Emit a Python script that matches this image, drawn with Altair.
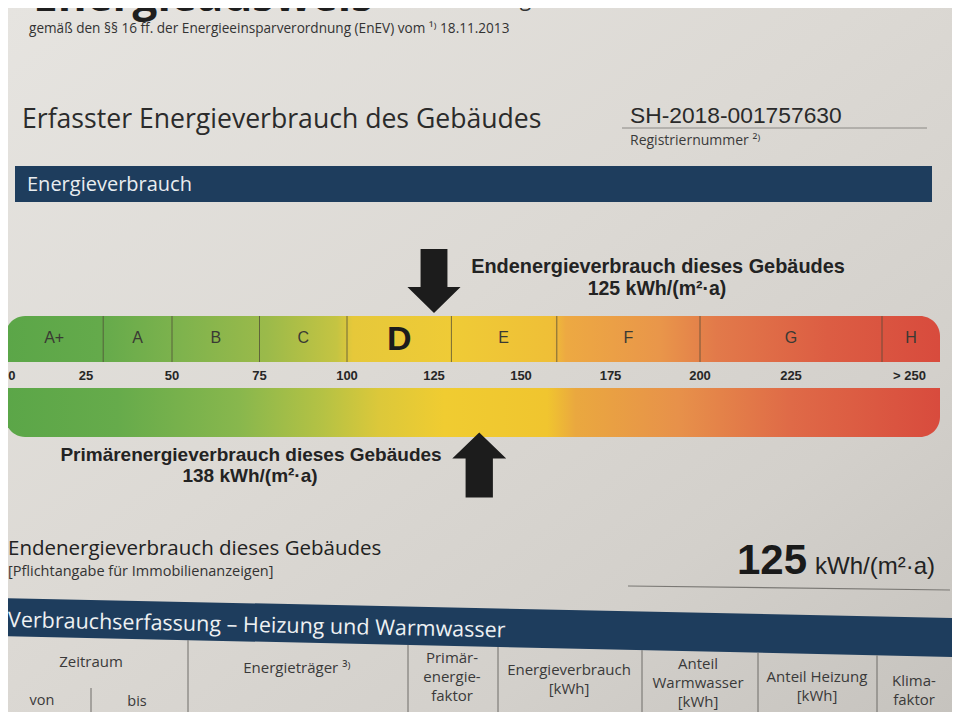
import altair as alt
import pandas as pd

# ------------------------------------------------------------------ data
class_labels = ["A+", "A", "B", "C", "D", "E", "F", "G", "H"]
class_bounds = [0, 30, 50, 75, 100, 130, 160, 200, 250]
tick_values = [0, 25, 50, 75, 100, 125, 150, 175, 200, 225, 250]
tick_labels = ["0", "25", "50", "75", "100", "125", "150", "175", "200", "225", "> 250"]
end_energy = 125
primary_energy = 138
energy_class = "D"
unit = "kWh/(m²·a)"
register_no = "SH-2018-001757630"
table_cols = ["Zeitraum", "Energieträger ³⁾", "Primär-\nenergie-\nfaktor",
              "Energieverbrauch\n[kWh]", "Anteil\nWarmwasser\n[kWh]",
              "Anteil Heizung\n[kWh]", "Klima-\nfaktor"]
period_cols = ["von", "bis"]

# ------------------------------------------------------------------ layout
W, H = 944, 704
OX, OY = 8, 8          # page margin (reference pixel -> chart pixel)


def px(x):
    return x - OX


def py(y):
    return y - OY


BAR_START, BAR_END = 1.5, 268        # visible extent of the scale bars (kWh)
# the printed scale is slightly warped in the photo: piecewise-linear scale
KX = alt.Scale(domain=[0, 50, 100, 150, 200, 250, 268],
               range=[px(0), px(172), px(347), px(521), px(700), px(882), px(940)],
               nice=False, zero=False)
PX = alt.Scale(domain=[OX, OX + W], nice=False, zero=False)
PY = alt.Scale(domain=[OY, OY + H], nice=False, zero=False, reverse=True)

DOC = "Open Sans"
ARIAL = "Liberation Sans"
INK = "#2b2b2b"
BLUE = "#1e3d5d"

one = pd.DataFrame({"a": [0]})


def grad(stops, x1=0, y1=0, x2=1, y2=0):
    return alt.LinearGradient(
        gradient="linear", x1=x1, y1=y1, x2=x2, y2=y2,
        stops=[alt.GradientStop(offset=o, color=c) for o, c in stops])


def txt(s, x, y, size, font=DOC, weight="normal", color=INK, align="left",
        angle=0, lh=None, baseline="middle"):
    kw = dict(font=font, fontSize=size, fontWeight=weight, color=color,
              align=align, baseline=baseline, lineBreak="\n")
    if angle:
        kw["angle"] = angle
    if lh:
        kw["lineHeight"] = lh
    return alt.Chart(pd.DataFrame({"t": [s]})).mark_text(**kw).encode(
        x=alt.value(px(x)), y=alt.value(py(y)), text="t:N")


def rect(x0, x1, y0, y1, color):
    return alt.Chart(one).mark_rect(color=color).encode(
        x=alt.value(px(x0)), x2=alt.value(px(x1)),
        y=alt.value(py(y0)), y2=alt.value(py(y1)))


layers = []

# background paper
layers.append(alt.Chart(one).mark_rect(
    color=grad([(0, "#e6e4e0"), (0.45, "#dcd9d4"), (0.75, "#d3d0cb"),
                (1, "#c6c3be")], 0, 0, 1, 1)).encode(
    x=alt.value(0), x2=alt.value(W), y=alt.value(0), y2=alt.value(H)))

# header texts (the big title is cut by the top edge of the photo)
layers.append(txt("Energieausweis", 33, 11, 44, weight="bold", color="#1f1f1f",
                  baseline="alphabetic"))
layers.append(txt("für Wohngebäude", 428, 6, 21, color="#333333",
                  baseline="alphabetic"))
layers.append(txt("gemäß den §§ 16 ff. der Energieeinsparverordnung (EnEV) vom ¹⁾ 18.11.2013",
                  29, 29, 13.6, color="#333333"))
layers.append(txt("Erfasster Energieverbrauch des Gebäudes", 22, 120, 26.6))
layers.append(txt(register_no, 630, 116, 22.8, font=ARIAL, color="#2a2a2a"))
layers.append(alt.Chart(one).mark_rule(color="#8a8884", strokeWidth=1).encode(
    x=alt.value(px(622)), x2=alt.value(px(927)), y=alt.value(py(128))))
layers.append(txt("Registriernummer ²⁾", 630, 141, 14, color="#3a3a3a"))

# blue band "Energieverbrauch"
layers.append(rect(15, 932, 166, 202, BLUE))
layers.append(txt("Energieverbrauch", 27, 185, 20, color="#e9edf0"))

# ------------------------------------------------------------------ scale bars
seg = pd.DataFrame({
    "label": class_labels,
    "lo": class_bounds,
    "hi": class_bounds[1:] + [BAR_END],
})
seg["mid"] = (seg["lo"].clip(lower=BAR_START) + seg["hi"]) / 2

top_stops = [(0.0, "#5ba648"), (0.10, "#64aa4b"), (0.19, "#7fb34d"),
             (0.28, "#9bba4a"), (0.355, "#c5c442"), (0.372, "#e6c83a"),
             (0.48, "#efcb36"), (0.585, "#efbf37"), (0.60, "#eda942"),
             (0.70, "#e9964a"), (0.76, "#e27a4a"), (0.88, "#dc5d43"),
             (1.0, "#d84b3d")]
bot_stops = [(0.0, "#5ba648"), (0.12, "#66ab4b"), (0.25, "#88b74d"),
             (0.34, "#b5c244"), (0.40, "#dcc83a"), (0.47, "#f0cc31"),
             (0.58, "#f0c52f"), (0.61, "#eaa83f"), (0.72, "#e7914a"),
             (0.84, "#df6a47"), (1.0, "#d84b3d")]

bar_df = pd.DataFrame({"lo": [BAR_START], "hi": [BAR_END]})
layers.append(alt.Chart(bar_df).mark_bar(
    color=grad(top_stops), cornerRadiusTopLeft=20, cornerRadiusTopRight=20).encode(
    x=alt.X("lo:Q", scale=KX, axis=None), x2="hi:Q",
    y=alt.value(py(316)), y2=alt.value(py(362))))
layers.append(alt.Chart(bar_df).mark_bar(
    color=grad(bot_stops), cornerRadiusBottomLeft=20, cornerRadiusBottomRight=20).encode(
    x=alt.X("lo:Q", scale=KX, axis=None), x2="hi:Q",
    y=alt.value(py(388)), y2=alt.value(py(437))))

# class dividers
layers.append(alt.Chart(seg.iloc[1:]).mark_rule(
    color="#4d4a36", strokeWidth=1, opacity=0.75).encode(
    x=alt.X("lo:Q", scale=KX, axis=None),
    y=alt.value(py(316)), y2=alt.value(py(362))))

# class letters
layers.append(alt.Chart(seg).transform_filter(
    alt.datum.label != energy_class).mark_text(
    font=ARIAL, fontSize=16, color="#3a3a34", baseline="middle").encode(
    x=alt.X("mid:Q", scale=KX, axis=None), y=alt.value(py(338)), text="label:N"))
layers.append(alt.Chart(seg).transform_filter(
    alt.datum.label == energy_class).mark_text(
    font=ARIAL, fontSize=34, fontWeight="bold", color="#1c1c1c", baseline="middle").encode(
    x=alt.X("mid:Q", scale=KX, axis=None), y=alt.value(py(340)), text="label:N"))

# tick labels
ticks = pd.DataFrame({"v": tick_values, "label": tick_labels})
tick_style = dict(font=ARIAL, fontSize=13, fontWeight="bold", color="#262626",
                  baseline="middle")
layers.append(alt.Chart(ticks.iloc[1:-1]).mark_text(**tick_style).encode(
    x=alt.X("v:Q", scale=KX, axis=None), y=alt.value(py(376)), text="label:N"))
first = ticks.iloc[:1].assign(pos=BAR_START)
last = ticks.iloc[-1:].assign(pos=BAR_END)
layers.append(alt.Chart(first).mark_text(align="left", dx=3, **tick_style).encode(
    x=alt.X("pos:Q", scale=KX, axis=None), y=alt.value(py(376)), text="label:N"))
layers.append(alt.Chart(last).mark_text(align="right", dx=-14, **tick_style).encode(
    x=alt.X("pos:Q", scale=KX, axis=None), y=alt.value(py(376)), text="label:N"))

# arrows
down = "M -0.42 -1 L 0.42 -1 L 0.42 0.19 L 0.83 0.19 L 0 1 L -0.83 0.19 L -0.42 0.19 Z"
up = "M -0.42 1 L 0.42 1 L 0.42 -0.2 L 0.83 -0.2 L 0 -1 L -0.83 -0.2 L -0.42 -0.2 Z"
layers.append(alt.Chart(pd.DataFrame({"v": [end_energy]})).mark_point(
    shape=down, filled=True, size=4096, color="#1c1c1c", opacity=1, strokeWidth=0).encode(
    x=alt.X("v:Q", scale=KX, axis=None), y=alt.value(py(281))))
layers.append(alt.Chart(pd.DataFrame({"v": [primary_energy]})).mark_point(
    shape=up, filled=True, size=4225, color="#1c1c1c", opacity=1, strokeWidth=0).encode(
    x=alt.X("v:Q", scale=KX, axis=None), y=alt.value(py(465))))

layers.append(txt("Endenergieverbrauch dieses Gebäudes", 658, 267, 19.9,
                  font=ARIAL, weight="bold", color="#232323", align="center"))
layers.append(txt(f"{end_energy} {unit}", 657, 289, 19.5,
                  font=ARIAL, weight="bold", color="#232323", align="center"))
layers.append(txt("Primärenergieverbrauch dieses Gebäudes", 251, 455, 19,
                  font=ARIAL, weight="bold", color="#232323", align="center"))
layers.append(txt(f"{primary_energy} {unit}", 250, 476, 19,
                  font=ARIAL, weight="bold", color="#232323", align="center"))

# ------------------------------------------------------------------ lower block
layers.append(txt("Endenergieverbrauch dieses Gebäudes", 8, 549, 20.5, color="#222222"))
layers.append(txt("[Pflichtangabe für Immobilienanzeigen]", 8, 572, 14.5, color="#333333"))
layers.append(txt(f"{end_energy}", 737, 561, 42, font=ARIAL, weight="bold", color="#1a1a1a"))
layers.append(txt(unit, 815, 567, 24, font=ARIAL, color="#222222"))
layers.append(alt.Chart(one).mark_rule(color="#7a7874", strokeWidth=1.2).encode(
    x=alt.value(px(628)), x2=alt.value(px(950)),
    y=alt.value(py(586)), y2=alt.value(py(590))))

# tilted blue band
band = pd.DataFrame({"x": [0, 952], "y": [598, 618], "y2": [636, 657]})
layers.append(alt.Chart(band).mark_area(color=BLUE, clip=True).encode(
    x=alt.X("x:Q", scale=PX, axis=None),
    y=alt.Y("y:Q", scale=PY, axis=None), y2="y2:Q"))
layers.append(txt("Verbrauchserfassung – Heizung und Warmwasser", 8, 621, 21.5,
                  color="#eef1f3", angle=1.2))

# table grid
vx = [188, 408, 498, 642, 758, 877]
vlines = pd.DataFrame({"x": vx, "y": [636 + 21 * x / 952 for x in vx], "y2": [712] * len(vx)})
vlines = pd.concat([vlines, pd.DataFrame({"x": [91], "y": [688], "y2": [712]})])
layers.append(alt.Chart(vlines).mark_rule(color="#6f6d69", strokeWidth=1).encode(
    x=alt.X("x:Q", scale=PX, axis=None),
    y=alt.Y("y:Q", scale=PY, axis=None), y2="y2:Q"))

# table headers (y = first line)
hx = [91, 297, 452, 569, 698, 817, 914]
hy = [662, 668, 658, 670, 664, 677, 681]
for s, x, y in zip(table_cols, hx, hy):
    layers.append(txt(s, x, y, 15, color="#3a3a3a", align="center", lh=19))
for s, x, y in zip(period_cols, [42, 137], [701, 702]):
    layers.append(txt(s, x, y, 14.5, color="#3a3a3a", align="center"))

chart = alt.layer(*layers).resolve_scale(x="independent", y="independent").properties(
    width=W, height=H, padding=0, background="#dcd9d4",
    autosize=alt.AutoSizeParams(type="none"),
).configure_view(stroke=None)

chart.save("out.html", embed_options={"renderer": "svg", "actions": False})
